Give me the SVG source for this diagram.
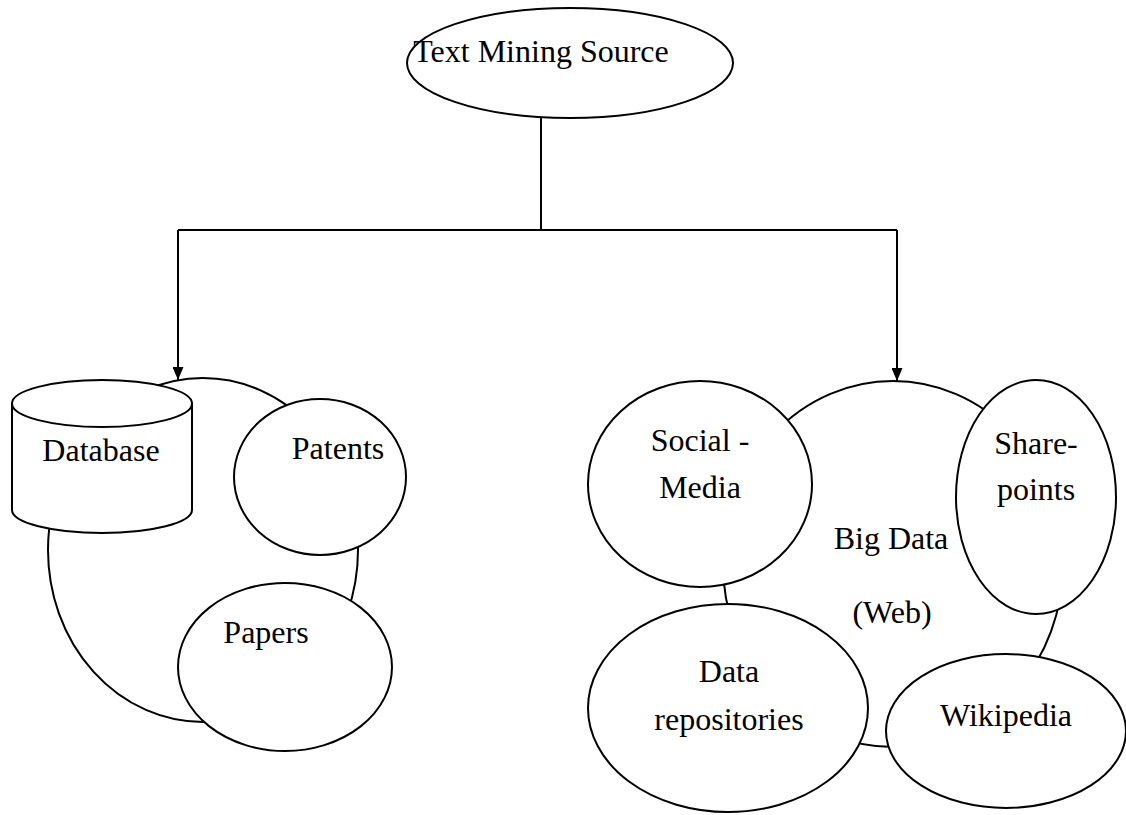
<svg xmlns="http://www.w3.org/2000/svg" width="1126" height="815" viewBox="0 0 1126 815">
<style>
.s{fill:#fff;stroke:#000;stroke-width:2}
.b{fill:none;stroke:#000;stroke-width:2}
.c{fill:none;stroke:#000;stroke-width:2}
</style>
<defs>
<marker id="ah" markerWidth="13" markerHeight="11" refX="13" refY="5.5" orient="auto" markerUnits="userSpaceOnUse" viewBox="0 0 13 11">
<path d="M0,0 L13,5.5 L0,11 Z" fill="#000"/>
</marker>
</defs>
<rect width="1126" height="815" fill="#fff"/>
<g font-family="Liberation Serif, Times New Roman, serif" font-size="32" fill="#000" text-anchor="middle">
<g id="connectors">
<path class="c" d="M541,118 L541,230"/>
<path class="c" d="M178,230 L897,230"/>
<path class="c" d="M178,230 L178,380" marker-end="url(#ah)"/>
<path class="c" d="M897,230 L897,381" marker-end="url(#ah)"/>
</g>
<g id="text-mining-source">
<ellipse class="s" cx="570" cy="63" rx="163" ry="55"/>
<text x="541" y="62">Text Mining Source</text>
</g>
<g id="left-group">
<ellipse class="b" cx="203" cy="550" rx="155" ry="172"/>
</g>
<g id="database">
<path class="s" d="M12,403.5 L12,510 A90,23 0 0 0 192,510 L192,403.5 Z"/>
<ellipse class="s" cx="102" cy="403.5" rx="90" ry="23.5"/>
<text x="101" y="461">Database</text>
</g>
<g id="patents">
<ellipse class="s" cx="320" cy="477" rx="86" ry="78"/>
<text x="338" y="459">Patents</text>
</g>
<g id="papers">
<ellipse class="s" cx="285" cy="667" rx="107" ry="84"/>
<text x="266" y="643">Papers</text>
</g>
<g id="big-data">
<ellipse class="b" cx="893" cy="564" rx="170" ry="183"/>
<text x="891" y="549">Big Data</text>
<text x="892" y="623">(Web)</text>
</g>
<g id="social-media">
<ellipse class="s" cx="700" cy="484" rx="112" ry="103"/>
<text x="700" y="451">Social -</text>
<text x="700" y="498">Media</text>
</g>
<g id="share-points">
<ellipse class="s" cx="1036" cy="497" rx="80" ry="117"/>
<text x="1036" y="454">Share-</text>
<text x="1036" y="500">points</text>
</g>
<g id="data-repositories">
<ellipse class="s" cx="728" cy="708" rx="140" ry="104"/>
<text x="729" y="682">Data</text>
<text x="729" y="730">repositories</text>
</g>
<g id="wikipedia">
<ellipse class="s" cx="1006" cy="731" rx="120" ry="77"/>
<text x="1006" y="726">Wikipedia</text>
</g>
</g>
</svg>
